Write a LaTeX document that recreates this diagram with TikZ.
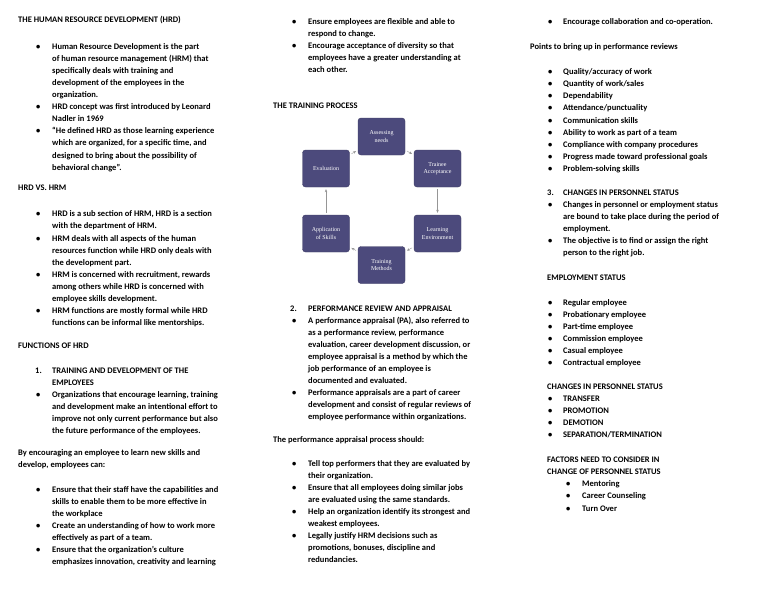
\documentclass[tikz,border=0pt]{standalone}
\usepackage{fontspec}
\setmainfont{Carlito}
\newfontfamily\boxfont{Liberation Serif}
\usetikzlibrary{arrows.meta}
\definecolor{stepcolor}{RGB}{76, 74, 124}
\definecolor{flowcolor}{RGB}{150, 150, 150}
\tikzset{
	txt/.style={anchor=mid west, inner sep=0pt, font=\bfseries\fontsize{8.5}{10}\selectfont},
	stage/.style={draw=stepcolor!80!black, fill=stepcolor, rounded corners=3pt, minimum width=47pt,
		minimum height=37pt, text=white, align=center, font=\boxfont\fontsize{6}{7.4}\selectfont},
	flow/.style={draw=flowcolor, -{Stealth[length=3pt, width=2.5pt]}, shorten <=2pt, shorten >=2pt}
}
% \lines#x#y#{line/line/...}
\newcommand\lines[3]{\foreach \l [count=\i from 0] in {#3}
	\node[txt] at (#1, {#2 + 12.1*\i}) {\l};}
% \bul#dotx#y#textx#{line/line/...}
\newcommand\bul[4]{\node[txt] at (#1, #2) {\textbullet}; \lines{#3}{#2}{#4}}
\begin{document}
\begin{tikzpicture}[x=1pt, y=-1pt]
	\useasboundingbox[fill=white] (0,0) rectangle (768,594);

	% column 1
	\lines{18}{20}{{THE HUMAN RESOURCE DEVELOPMENT (HRD)}}
	\bul{36}{47}{52}{{Human Resource Development is the part}, {of human resource management (HRM) that}, {specifically deals with training and}, {development of the employees in the}, {organization.}}
	\bul{36}{107.5}{52}{{HRD concept was first introduced by Leonard}, {Nadler in 1969}}
	\bul{36}{131.5}{52}{{“He defined HRD as those learning experience}, {which are organized, for a specific time, and}, {designed to bring about the possibility of}, {behavioral change”.}}
	\lines{18}{188.5}{{HRD VS. HRM}}
	\bul{36}{214}{52}{{HRD is a sub section of HRM, HRD is a section}, {with the department of HRM.}}
	\bul{36}{239}{52}{{HRM deals with all aspects of the human}, {resources function while HRD only deals with}, {the development part.}}
	\bul{36}{275}{52}{{HRM is concerned with recruitment, rewards}, {among others while HRD is concerned with}, {employee skills development.}}
	\bul{36}{311}{52}{{HRM functions are mostly formal while HRD}, {functions can be informal like mentorships.}}
	\lines{18}{346}{{FUNCTIONS OF HRD}}
	\lines{35}{371}{{1.}}
	\lines{52}{371}{{TRAINING AND DEVELOPMENT OF THE}, {EMPLOYEES}}
	\bul{36}{395}{52}{{Organizations that encourage learning, training}, {and development make an intentional effort to}, {improve not only current performance but also}, {the future performance of the employees.}}
	\lines{18}{453}{{By encouraging an employee to learn new skills and}, {develop, employees can:}}
	\bul{36}{490}{52}{{Ensure that their staff have the capabilities and}, {skills to enable them to be more effective in}, {the workplace}}
	\bul{36}{526}{52}{{Create an understanding of how to work more}, {effectively as part of a team.}}
	\bul{36}{550}{52}{{Ensure that the organization’s culture}, {emphasizes innovation, creativity and learning}}

	% column 2
	\bul{292}{22}{308}{{Ensure employees are flexible and able to}, {respond to change.}}
	\bul{292}{46}{308}{{Encourage acceptance of diversity so that}, {employees have a greater understanding at}, {each other.}}
	\lines{273}{106}{{THE TRAINING PROCESS}}

	% training cycle
	\node[stage] (assess) at (381.5, 136.5) {Assessing\\needs};
	\node[stage] (accept) at (437.5, 168.5) {Trainee\\Acceptance};
	\node[stage] (environ) at (437.5, 233.5) {Learning\\Environment};
	\node[stage] (methods) at (381.5, 265) {Training\\Methods};
	\node[stage] (apply) at (326, 233.5) {Application\\of Skills};
	\node[stage] (evaluate) at (326, 168.5) {Evaluation};
	\draw[flow] (assess) -- (accept);
	\draw[flow] (accept) -- (environ);
	\draw[flow] (environ) -- (methods);
	\draw[flow] (methods) -- (apply);
	\draw[flow] (apply) -- (evaluate);
	\draw[flow] (evaluate) -- (assess);

	\lines{290}{309}{{2.}}
	\lines{308}{309}{{PERFORMANCE REVIEW AND APPRAISAL}}
	\bul{292}{321}{308}{{A performance appraisal (PA), also referred to}, {as a performance review, performance}, {evaluation, career development discussion, or}, {employee appraisal is a method by which the}, {job performance of an employee is}, {documented and evaluated.}}
	\bul{292}{393}{308}{{Performance appraisals are a part of career}, {development and consist of regular reviews of}, {employee performance within organizations.}}
	\lines{273}{440}{{The performance appraisal process should:}}
	\bul{292}{464}{308}{{Tell top performers that they are evaluated by}, {their organization.}}
	\bul{292}{488}{308}{{Ensure that all employees doing similar jobs}, {are evaluated using the same standards.}}
	\bul{292}{512}{308}{{Help an organization identify its strongest and}, {weakest employees.}}
	\bul{292}{536}{308}{{Legally justify HRM decisions such as}, {promotions, bonuses, discipline and}, {redundancies.}}

	% column 3
	\bul{548}{22}{563}{{Encourage collaboration and co-operation.}}
	\lines{530}{47}{{Points to bring up in performance reviews}}
	\foreach \pt [count=\k from 0] in {Quality/accuracy of work, Quantity of work/sales, Dependability,
		Attendance/punctuality, Communication skills, Ability to work as part of a team,
		Compliance with company procedures, Progress made toward professional goals, Problem-solving skills}
		{\bul{548}{72 + 12.2*\k}{563}{{\pt}}}
	\lines{547}{193}{{3.}}
	\lines{563}{193}{{CHANGES IN PERSONNEL STATUS}}
	\bul{548}{205}{563}{{Changes in personnel or employment status}, {are bound to take place during the period of}, {employment.}}
	\bul{548}{241}{563}{{The objective is to find or assign the right}, {person to the right job.}}
	\lines{547}{278}{{EMPLOYMENT STATUS}}
	\foreach \pt [count=\k from 0] in {Regular employee, Probationary employee, Part-time employee,
		Commission employee, Casual employee, Contractual employee}
		{\bul{548}{303 + 12.1*\k}{563}{{\pt}}}
	\lines{547}{387}{{CHANGES IN PERSONNEL STATUS}}
	\foreach \pt [count=\k from 0] in {TRANSFER, PROMOTION, DEMOTION, SEPARATION/TERMINATION}
		{\bul{548}{399 + 12.1*\k}{563}{{\pt}}}
	\lines{547}{460}{{FACTORS NEED TO CONSIDER IN}, {CHANGE OF PERSONNEL STATUS}}
	\foreach \pt [count=\k from 0] in {Mentoring, Career Counseling, Turn Over}
		{\bul{566}{484 + 12.4*\k}{582}{{\pt}}}
\end{tikzpicture}
\end{document}
